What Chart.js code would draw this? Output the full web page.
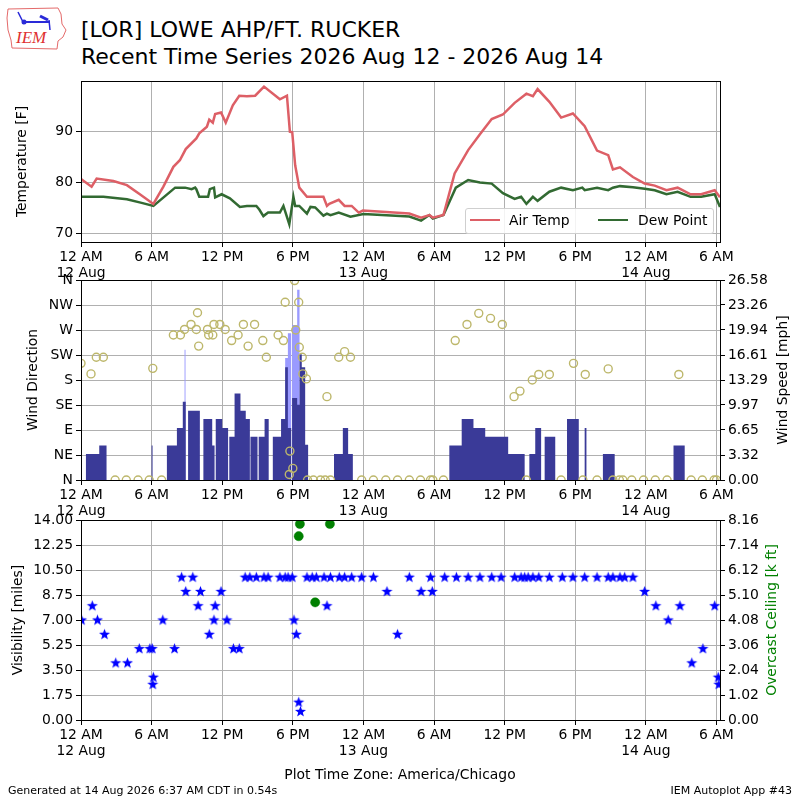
<!DOCTYPE html>
<html>
<head>
<meta charset="utf-8">
<script src="https://cdn.jsdelivr.net/npm/chart.js@4.4.1/dist/chart.umd.min.js"></script>
<style>
  html, body { margin: 0; padding: 0; background: #fff; }
  #wrap { position: relative; width: 800px; height: 800px; overflow: hidden; font-family: "DejaVu Sans", sans-serif; color: #000; }
  canvas.panel { position: absolute; left: 0; top: 0; }
  .t { position: absolute; white-space: nowrap; line-height: 1; }
  .rot { position: absolute; white-space: nowrap; line-height: 1; transform: translate(-50%, -50%) rotate(-90deg); font-size: 13.9px; }
</style>
</head>
<body>
<div id="wrap">
  <svg width="70" height="56" style="position:absolute;left:0;top:0">
    <polygon points="8,9 58,8 61,14 62,24 66,30 63,37 58,41 57,49 12,48 11,40 8,30 7,18" fill="none" stroke="#e46a6a" stroke-width="1"/>
    <line x1="22" y1="22" x2="50" y2="22" stroke="#2a2ad8" stroke-width="2"/>
    <line x1="18" y1="12" x2="24" y2="24" stroke="#2a2ad8" stroke-width="1.5"/>
    <line x1="40" y1="16" x2="48" y2="20" stroke="#2a2ad8" stroke-width="3"/>
    <line x1="49" y1="20" x2="50" y2="30" stroke="#2a2ad8" stroke-width="1.5"/>
    <circle cx="24" cy="22" r="2.5" fill="#2a2ad8"/>
    <text x="16" y="43" font-family="Liberation Serif" font-style="italic" font-size="17" fill="#e03030">IEM</text>
  </svg>
  <div class="t" style="left:81px;top:18.5px;font-size:22px">[LOR] LOWE AHP/FT. RUCKER</div>
  <div class="t" style="left:81px;top:45.5px;font-size:22px">Recent Time Series 2026 Aug 12 - 2026 Aug 14</div>

  <canvas id="c1" class="panel" width="800" height="800"></canvas>
  <canvas id="c2" class="panel" width="800" height="800"></canvas>
  <canvas id="c3" class="panel" width="800" height="800"></canvas>

  <div id="legend" style="position:absolute;left:465px;top:208px;width:247px;height:24px;border:1px solid #cfcfcf;border-radius:3px;background:rgba(255,255,255,0.85)"></div>

  <div class="rot" style="left:783px;top:380px">Wind Speed [mph]</div>
  <div class="rot" style="left:772px;top:620px;color:#008000">Overcast Ceiling [k ft]</div>

  <div class="t" style="left:400px;top:768px;font-size:13.9px;transform:translateX(-50%)">Plot Time Zone: America/Chicago</div>
  <div class="t" style="left:8px;top:785px;font-size:11px">Generated at 14 Aug 2026 6:37 AM CDT in 0.54s</div>
  <div class="t" style="right:8px;top:785px;font-size:11px">IEM Autoplot App #43</div>
</div>

<script>
// hours since 12 AM 12 Aug (America/Chicago)
const xMin = 0;
const xMax = 54.3;
const tickHours = [0, 6, 12, 18, 24, 30, 36, 42, 48, 54];
const tickTimes = ["12 AM", "6 AM", "12 PM", "6 PM", "12 AM", "6 AM", "12 PM", "6 PM", "12 AM", "6 AM"];
const tickDates = ["12 Aug", "", "", "", "13 Aug", "", "", "", "14 Aug", ""];

const seriesNames = ["Air Temp", "Dew Point"];

const airHours = [0, 0.9, 1.33, 2.75, 3.9, 5.0, 6.15, 7.0, 7.85, 8.4, 8.9, 9.8, 10.05, 10.7, 10.9, 11.2, 11.4, 11.9, 12.3, 12.9,
  13.45, 14.1, 14.8, 15.55, 16.9, 17.5, 17.75, 17.95, 18.2, 18.55, 19.2, 20.6, 20.9, 21.1, 21.9, 22.4, 23.0, 23.6, 23.95, 27.9,
  28.9, 29.6, 29.9, 30.8, 31.75, 32.9, 33.9, 34.9, 35.85, 36.85, 37.85, 38.4, 38.8, 39.8, 40.8, 41.8, 42.8, 43.85, 44.8, 45.2,
  45.8, 46.9, 47.9, 48.75, 49.75, 50.7, 51.8, 52.7, 53.85, 54.3];
const airTemp = [80.7, 79.2, 80.8, 80.3, 79.5, 77.7, 75.8, 79.2, 83.1, 84.4, 86.6, 88.7, 89.7, 91.0, 92.4, 91.8, 93.5, 93.8, 91.8, 95.2,
  97.1, 97.0, 97.1, 98.9, 96.4, 97.1, 90.0, 89.9, 83.4, 79.0, 77.2, 77.2, 75.4, 75.8, 76.6, 75.4, 75.4, 74.1, 74.5, 73.9,
  73.1, 73.6, 73.1, 73.6, 81.8, 86.4, 89.5, 92.5, 93.4, 95.7, 97.5, 97.0, 98.4, 95.9, 92.8, 93.6, 91.1, 86.3, 85.4, 82.6,
  83.0, 81.1, 79.8, 79.4, 78.5, 79.0, 77.7, 77.7, 78.5, 77.1];

const dewHours = [0, 1.9, 3.9, 5.15, 6.15, 8.0, 8.85, 9.4, 9.7, 9.8, 10.05, 10.8, 10.95, 11.3, 11.4, 11.95, 12.65, 13.5, 14.1, 14.9,
  15.15, 15.5, 15.9, 16.9, 17.2, 17.7, 18.05, 18.2, 18.55, 19.2, 19.5, 19.9, 20.6, 20.9, 21.2, 21.9, 22.9, 24.0, 27.9, 28.9,
  29.6, 29.9, 30.8, 31.85, 32.9, 33.9, 34.9, 35.85, 36.85, 37.4, 37.85, 38.4, 38.8, 39.8, 40.8, 41.8, 42.6, 42.8, 43.85, 44.8,
  45.2, 45.8, 46.9, 47.9, 48.75, 49.75, 50.7, 51.8, 52.7, 53.85, 54.3];
const dewPoint = [77.2, 77.2, 76.7, 76.0, 75.4, 79.0, 79.0, 78.7, 79.0, 78.7, 77.2, 77.2, 78.7, 79.0, 77.1, 77.7, 76.9, 75.2, 75.4, 75.4,
  74.7, 73.4, 74.1, 74.1, 75.4, 71.8, 77.2, 75.4, 75.4, 73.9, 75.2, 75.1, 73.5, 73.9, 73.6, 74.1, 73.3, 73.8, 73.3, 72.5,
  73.6, 72.9, 73.6, 79.0, 80.5, 80.0, 79.8, 77.9, 76.8, 77.2, 75.8, 77.2, 76.4, 78.2, 79.0, 78.5, 79.0, 78.5, 79.0, 78.5,
  79.0, 79.3, 79.1, 78.8, 78.5, 77.7, 78.2, 77.2, 77.2, 77.7, 75.2];
const tempTicks = [70, 80, 90];

// wind direction in degrees (0 = calm / north)
const dirHours = [0, 0.85, 1.3, 1.9, 2.9, 3.85, 4.85, 5.8, 6.1, 6.85, 7.85, 8.45, 8.8, 9.35, 9.8, 9.9, 10.0, 10.75, 10.85, 11.2,
  11.3, 11.8, 12.25, 12.8, 13.35, 13.8, 14.2, 14.75, 15.45, 15.75, 16.75, 17.2, 17.35, 17.7, 17.75, 18.0, 18.15, 18.25, 18.5, 18.55,
  18.8, 18.85, 19.15, 19.25, 19.75, 20.35, 20.75, 20.9, 21.2, 21.9, 22.4, 22.9, 23.85, 24.85, 25.9, 26.9, 27.9, 28.85, 29.7, 29.9,
  30.8, 31.8, 32.8, 33.8, 34.8, 35.8, 36.8, 37.3, 37.85, 38.35, 38.9, 39.8, 40.8, 41.85, 42.65, 42.85, 43.85, 44.8, 45.2, 45.75,
  46.05, 46.8, 47.8, 48.8, 49.8, 50.8, 51.85, 52.8, 53.8, 54.0];
const dirDeg = [210, 191, 221, 221, 0, 0, 0, 0, 201, 0, 261, 261, 271, 280, 271, 301, 241, 271, 261, 261,
  280, 280, 271, 251, 261, 280, 241, 280, 251, 221, 261, 251, 320, 10, 52, 21, 359, 270, 320, 239,
  221, 191, 182, 0, 0, 0, 0, 150, 0, 221, 231, 221, 0, 0, 0, 0, 0, 0, 0, 0,
  0, 251, 280, 300, 291, 280, 150, 160, 0, 180, 190, 190, 0, 210, 0, 190, 0, 200, 0, 0,
  0, 0, 0, 0, 0, 190, 0, 0, 0, 0];
const dirTicks = [0, 45, 90, 135, 180, 225, 270, 315, 360];
const dirLabels = ["N", "NE", "E", "SE", "S", "SW", "W", "NW", "N"];

// wind speed (mph), each value held until the next time
const speedHours = [0, 0.42, 1.55, 2.17, 6.0, 6.08, 7.3, 8.15, 8.65, 8.9, 9.1, 10.1, 10.4, 11.15, 11.35, 11.45, 12.0, 12.5, 12.6, 13.05,
  13.55, 14.0, 14.35, 14.4, 15.0, 15.1, 15.6, 15.95, 16.3, 17.0, 17.35, 17.58, 17.86, 17.94, 18.37, 18.57, 18.76, 19.05, 19.3, 21.5,
  22.25, 22.7, 23.1, 31.3, 32.35, 33.35, 34.35, 36.3, 37.7, 38.1, 38.6, 39.1, 39.4, 40.3, 41.3, 42.3, 42.8, 42.95, 44.35, 45.35,
  50.35, 51.3, 54.3];
const speedMph = [0, 3.45, 4.6, 0, 4.6, 0, 4.6, 6.9, 10.4, 0, 9.2, 0, 8.1, 4.6, 0, 8.1, 6.9, 0, 5.75, 11.5,
  9.2, 8.1, 0, 5.75, 0, 5.75, 8.1, 0, 5.75, 8.1, 15.0, 6.9, 0, 10.9, 10.0, 16.7, 15.0, 4.7, 0, 3.45,
  6.9, 3.45, 0, 4.6, 8.1, 6.9, 5.75, 3.45, 0, 3.45, 6.9, 0, 5.75, 0, 8.1, 0, 6.9, 0, 3.45, 0,
  4.6, 0, 0];
const gustHours = [0, 8.8, 8.88, 17.35, 17.58, 17.86, 17.94, 18.37, 18.57, 54.3];
const gustMph = [0, 17.3, 0, 16.2, 19.5, 0, 20.6, 25.3, 0, 0];
const speedTicks = [0, 3.32, 6.65, 9.97, 13.29, 16.61, 19.94, 23.26, 26.58];

const visHours = [0.05, 0.96, 1.4, 2.0, 2.95, 3.95, 4.95, 5.85, 6.05, 6.1, 6.15, 6.95, 7.95, 8.55, 8.9, 9.5, 9.95, 10.15, 10.9, 11.3,
  11.4, 11.9, 12.4, 12.95, 13.45, 13.95, 14.35, 14.9, 15.55, 15.9, 16.9, 17.35, 17.6, 17.95, 18.1, 18.3, 18.5, 18.65, 19.2, 19.65,
  20.0, 20.65, 20.9, 21.2, 21.95, 22.4, 23.0, 23.85, 24.85, 26.0, 26.9, 27.9, 28.9, 29.7, 29.85, 30.9, 31.9, 32.9, 33.9, 34.9,
  35.7, 36.85, 37.4, 37.7, 38.0, 38.4, 38.9, 39.8, 40.9, 41.8, 42.8, 43.85, 44.8, 45.2, 45.8, 46.2, 46.9, 47.9, 48.85, 49.9,
  50.9, 51.9, 52.85, 53.85, 54.15, 54.2];
const visMiles = [7, 8, 7, 6, 4, 4, 5, 5, 5, 2.5, 3, 7, 5, 10, 9, 10, 8, 9, 6, 7,
  8, 9, 7, 5, 5, 10, 10, 10, 10, 10, 10, 10, 10, 10, 7, 6, 1.25, 0.6, 10, 10,
  10, 10, 8, 10, 10, 10, 10, 10, 10, 9, 6, 10, 9, 10, 9, 10, 10, 10, 10, 10,
  10, 10, 10, 10, 10, 10, 10, 10, 10, 10, 10, 10, 10, 10, 10, 10, 10, 9, 8, 7,
  8, 4, 5, 8, 3, 2.5];
const visTicks = [0, 1.75, 3.5, 5.25, 7, 8.75, 10.5, 12.25, 14];

const ceilHours = [18.5, 18.6, 19.9, 21.15];
const ceilKft = [7.5, 8.0, 4.8, 8.0];
const ceilTicks = [0, 1.02, 2.04, 3.06, 4.08, 5.10, 6.12, 7.14, 8.16];

const airColor = "#dd5f66";
const dewColor = "#326a32";
const gridColor = "#b0b0b0";
const tickFont = { family: "DejaVu Sans", size: 13.9, lineHeight: 1.15 };

const pts = (xs, ys) => xs.map((x, i) => ({ x: x, y: ys[i] }));

// legend box, lower right of the temperature panel
const legendEl = document.getElementById("legend");
[[airColor, 4, 43], [dewColor, 132, 172]].forEach(([col, lx, tx], i) => {
  const ln = document.createElement("div");
  ln.style.cssText = `position:absolute;left:${lx}px;top:10px;width:30px;height:0;border-top:2.5px solid ${col}`;
  legendEl.appendChild(ln);
  const tx1 = document.createElement("div");
  tx1.className = "t";
  tx1.style.cssText = `left:${tx}px;top:5px;font-size:13.9px`;
  tx1.textContent = seriesNames[i];
  legendEl.appendChild(tx1);
});

// filled star marker for visibility
const starImg = document.createElement("canvas");
starImg.width = 13;
starImg.height = 13;
(function () {
  const g = starImg.getContext("2d");
  g.beginPath();
  for (let k = 0; k < 10; k++) {
    const r = k % 2 === 0 ? 5.8 : 2.4;
    const a = -Math.PI / 2 + (k * Math.PI) / 5;
    const px = 6.5 + r * Math.cos(a);
    const py = 6.8 + r * Math.sin(a);
    if (k === 0) g.moveTo(px, py); else g.lineTo(px, py);
  }
  g.closePath();
  g.fillStyle = "#0000ff";
  g.fill();
})();

const framePlugin = {
  id: "frame",
  afterDraw(chart) {
    const a = chart.chartArea;
    const ctx = chart.ctx;
    ctx.save();
    ctx.strokeStyle = "#000";
    ctx.lineWidth = 1;
    ctx.strokeRect(Math.round(a.left) + 0.5, Math.round(a.top) + 0.5, Math.round(a.right - a.left), Math.round(a.bottom - a.top));
    ctx.restore();
  }
};

function xScale(z) {
  return {
    type: "linear",
    min: xMin,
    max: xMax,
    z: z || 0,
    afterBuildTicks: (s) => { s.ticks = tickHours.map((v) => ({ value: v })); },
    afterFit: (s) => { s.height = 44; s.paddingLeft = 0; s.paddingRight = 0; },
    ticks: {
      autoSkip: false,
      maxRotation: 0,
      padding: 2,
      color: "#000",
      font: tickFont,
      callback: (v, i) => (tickDates[i] ? [tickTimes[i], tickDates[i]] : tickTimes[i])
    },
    grid: { color: gridColor, lineWidth: 1, tickColor: "#000", tickLength: 5 },
    border: { color: "#000" }
  };
}

function yScale(position, min, max, ticks, labelFn, width, title, onArea, z) {
  return {
    type: "linear",
    position: position,
    min: min,
    max: max,
    z: z || 0,
    afterBuildTicks: (s) => { s.ticks = ticks.map((v) => ({ value: v })); },
    afterFit: (s) => { s.width = width; s.paddingTop = 0; s.paddingBottom = 0; },
    ticks: { padding: 3, color: "#000", font: tickFont, callback: (v, i) => labelFn(i) },
    grid: { color: gridColor, lineWidth: 1, tickColor: "#000", tickLength: 5, drawOnChartArea: onArea },
    border: { color: "#000" },
    title: title
      ? { display: true, text: title, color: "#000", font: { family: "DejaVu Sans", size: 13.9 }, padding: 0 }
      : { display: false }
  };
}

const common = {
  responsive: false,
  animation: false,
  events: [],
  plugins: { legend: { display: false }, tooltip: { enabled: false } }
};

// Panel 1: temperature
new Chart(document.getElementById("c1"), {
  type: "line",
  data: {
    datasets: [
      { label: seriesNames[0], data: pts(airHours, airTemp), borderColor: airColor, borderWidth: 2.5, pointRadius: 0, tension: 0 },
      { label: seriesNames[1], data: pts(dewHours, dewPoint), borderColor: dewColor, borderWidth: 2.5, pointRadius: 0, tension: 0 }
    ]
  },
  options: Object.assign({}, common, {
    layout: { padding: { left: 14, right: 80, top: 81, bottom: 800 - 242 - 44 } },
    scales: {
      x: xScale(),
      y: yScale("left", 68.3, 100, tempTicks, (i) => String(tempTicks[i]), 67, "Temperature [F]", true)
    }
  }),
  plugins: [framePlugin]
});

// Panel 2: wind
new Chart(document.getElementById("c2"), {
  type: "line",
  data: {
    datasets: [
      { data: pts(dirHours, dirDeg), yAxisID: "yDir", showLine: false, pointStyle: "circle", pointRadius: 4,
        pointBorderWidth: 1.4, pointBorderColor: "#bdb76b", pointBackgroundColor: "rgba(0,0,0,0)", order: 0 },
      { data: pts(speedHours, speedMph), yAxisID: "ySpd", stepped: true, fill: "origin", backgroundColor: "#3a3a98",
        borderColor: "rgba(0,0,0,0)", borderWidth: 0, pointRadius: 0, order: 1 },
      { data: pts(gustHours, gustMph), yAxisID: "ySpd", stepped: true, fill: "origin", backgroundColor: "#9a9aff",
        borderColor: "rgba(0,0,0,0)", borderWidth: 0, pointRadius: 0, order: 2 }
    ]
  },
  options: Object.assign({}, common, {
    layout: { padding: { left: 25, right: 0, top: 280, bottom: 800 - 480 - 44 } },
    scales: {
      x: xScale(1),
      yDir: yScale("left", 0, 360, dirTicks, (i) => dirLabels[i], 56, "Wind Direction", true, 1),
      ySpd: yScale("right", 0, 26.58, speedTicks, (i) => speedTicks[i].toFixed(2), 80, null, false)
    }
  }),
  plugins: [framePlugin]
});

// Panel 3: visibility and ceiling
new Chart(document.getElementById("c3"), {
  type: "line",
  data: {
    datasets: [
      { data: pts(ceilHours, ceilKft), yAxisID: "yCeil", showLine: false, pointStyle: "circle", pointRadius: 4.6,
        pointBorderWidth: 0.5, pointBorderColor: "#008000", pointBackgroundColor: "#008000", order: 0 },
      { data: pts(visHours, visMiles), yAxisID: "yVis", showLine: false, pointStyle: starImg, pointRadius: 5, order: 1 }
    ]
  },
  options: Object.assign({}, common, {
    layout: { padding: { left: 10, right: 0, top: 520, bottom: 800 - 720 - 44 } },
    scales: {
      x: xScale(),
      yVis: yScale("left", 0, 14, visTicks, (i) => visTicks[i].toFixed(2), 71, "Visibility [miles]", true),
      yCeil: yScale("right", 0, 8.16, ceilTicks, (i) => ceilTicks[i].toFixed(2), 80, null, false)
    }
  }),
  plugins: [framePlugin]
});
</script>
</body>
</html>
